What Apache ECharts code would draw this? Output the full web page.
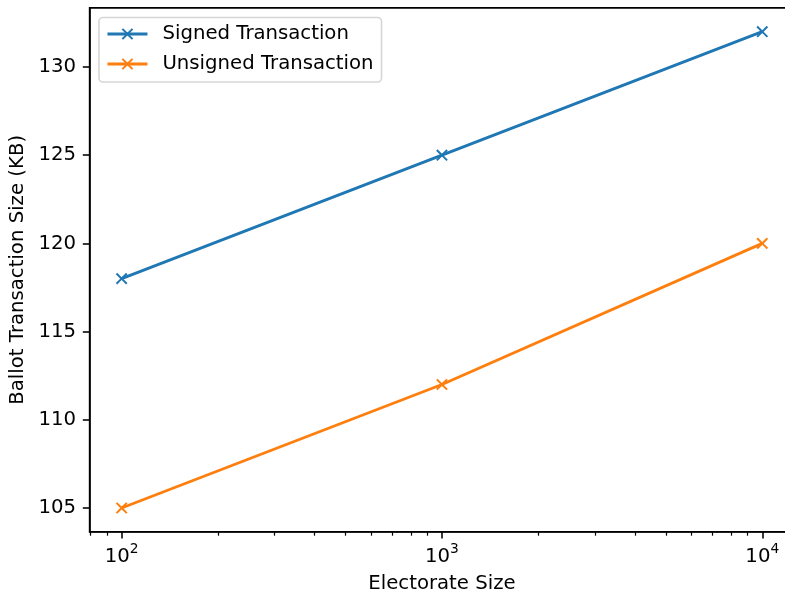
<!DOCTYPE html>
<html>
<head>
<meta charset="utf-8">
<script src="https://cdn.jsdelivr.net/npm/echarts@6/dist/echarts.min.js"></script>
<style>
  html, body { margin: 0; padding: 0; background: #fff; }
  #chart { width: 785px; height: 596px; }
</style>
</head>
<body>
<div id="chart"></div>
<script>
// Electorate sizes (log scale) and ballot transaction sizes in KB
const electorate = [100, 1000, 10000];
const signedKB = [118, 125, 132];
const unsignedKB = [105, 112, 120];
const seriesNames = ['Signed Transaction', 'Unsigned Transaction'];
const yTicks = [105, 110, 115, 120, 125, 130];
const xMajorTicks = [100, 1000, 10000];
const xMinorTicks = [80, 90, 200, 300, 400, 500, 600, 700, 800, 900,
  2000, 3000, 4000, 5000, 6000, 7000, 8000, 9000];

const FONT = 'DejaVu Sans';
const FS = 19.7;
const X_MIN = Math.pow(10, 1.9), X_MAX = Math.pow(10, 4.1);
const Y_MIN = 103.65, Y_MAX = 133.35;

// Thick "x" marker outline (filled polygon in a 10x10 box)
const X_MARK = 'path://M0,1.2L1.2,0L5,3.8L8.8,0L10,1.2L6.2,5L10,8.8L8.8,10L5,6.2L1.2,10L0,8.8L3.8,5Z';

function pairs(xs, ys) { return xs.map((x, i) => [x, ys[i]]); }

const chart = echarts.init(document.getElementById('chart'), null, { renderer: 'canvas' });

function lineSeries(name, values, color) {
  return {
    name: name,
    type: 'line',
    xAxisIndex: 0,
    data: pairs(electorate, values),
    symbol: X_MARK,
    symbolSize: 11.7,
    showSymbol: true,
    color: color,
    lineStyle: { width: 2.9, color: color },
    itemStyle: { color: color },
    emphasis: { disabled: true },
    animation: false,
    z: 3
  };
}

chart.setOption({
  animation: false,
  backgroundColor: '#fff',
  textStyle: { fontFamily: FONT },
  grid: {
    left: 89.6, top: 7.9, width: 704.7, height: 523.9,
    outerBoundsMode: 'none',
    show: true, borderColor: '#000', borderWidth: 1.56,
    backgroundColor: 'transparent', containLabel: false
  },
  legend: {
    left: 99, top: 17.5,
    orient: 'vertical',
    data: seriesNames,
    itemWidth: 40, itemHeight: 14.5, itemGap: 10,
    padding: [6.5, 8, 8, 7],
    backgroundColor: '#fff',
    borderColor: '#d6d6d6', borderWidth: 1.6, borderRadius: 4,
    lineStyle: { width: 2.9 },
    textStyle: { fontFamily: FONT, fontSize: FS, color: '#000', lineHeight: 20, padding: [0, 0, 0, 10] },
    selectedMode: false
  },
  xAxis: [{
    type: 'log', logBase: 10, min: X_MIN, max: X_MAX, position: 'bottom',
    name: 'Electorate Size', nameLocation: 'middle', nameGap: 42,
    nameTextStyle: { fontFamily: FONT, fontSize: FS, color: '#000' },
    axisLine: { show: true, lineStyle: { color: '#000', width: 1.56 } },
    axisTick: { show: true, customValues: xMajorTicks, length: 6.8, lineStyle: { color: '#000', width: 1.56 } },
    axisLabel: {
      show: true, customValues: xMajorTicks, margin: 11,
      formatter: function (v) { return '{b|10}{s|' + Math.round(Math.log10(v)) + '}'; },
      rich: {
        b: { fontFamily: FONT, fontSize: FS, color: '#000', lineHeight: 24, verticalAlign: 'bottom' },
        s: { fontFamily: FONT, fontSize: 13.8, color: '#000', lineHeight: 24, verticalAlign: 'top' }
      }
    },
    splitLine: { show: false }
  }, {
    type: 'log', logBase: 10, min: X_MIN, max: X_MAX, position: 'bottom',
    axisLine: { show: false },
    axisTick: { show: true, customValues: xMinorTicks, length: 3.9, lineStyle: { color: '#000', width: 1.2 } },
    axisLabel: { show: false },
    splitLine: { show: false }
  }],
  yAxis: {
    type: 'value', min: Y_MIN, max: Y_MAX,
    name: 'Ballot Transaction Size (KB)', nameLocation: 'middle', nameGap: 58,
    nameTextStyle: { fontFamily: FONT, fontSize: FS, color: '#000' },
    axisLine: { show: true, lineStyle: { color: '#000', width: 1.56 } },
    axisTick: { show: true, customValues: yTicks, length: 6.8, lineStyle: { color: '#000', width: 1.56 } },
    axisLabel: {
      show: true, customValues: yTicks, margin: 13.6,
      fontFamily: FONT, fontSize: FS, color: '#000',
      formatter: function (v) { return String(Math.round(v)); }
    },
    splitLine: { show: false }
  },
  series: [
    lineSeries(seriesNames[0], signedKB, '#1f77b4'),
    lineSeries(seriesNames[1], unsignedKB, '#ff7f0e')
  ]
});
</script>
</body>
</html>
